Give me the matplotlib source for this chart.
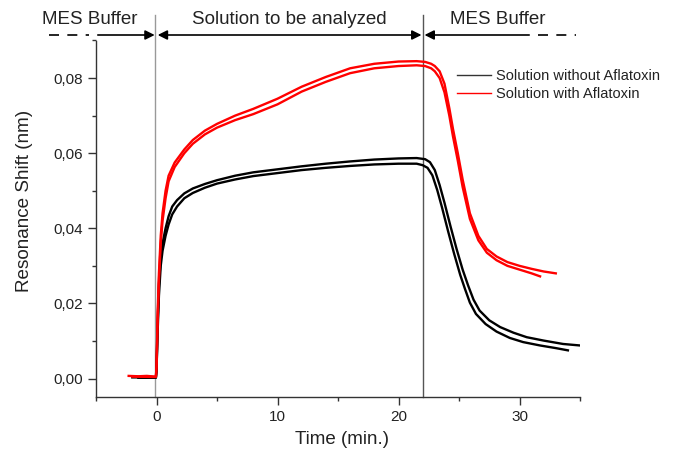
import matplotlib
matplotlib.use("Agg")
import matplotlib.pyplot as plt
from matplotlib.ticker import MultipleLocator, FuncFormatter
from matplotlib.lines import Line2D
import matplotlib.transforms as mtransforms

plt.rcParams['font.family'] = ['Liberation Sans', 'DejaVu Sans']

# ---------------- data ----------------
phase_bounds = [0.0, 22.0]
phase_labels = ["MES Buffer", "Solution to be analyzed", "MES Buffer"]
series_labels = ["Solution without Aflatoxin", "Solution with Aflatoxin"]

# Solution without Aflatoxin, replicate A (upper)
t_black_a = [-2.0, -0.05, 0.0, 0.1, 0.2, 0.35, 0.5, 0.75, 1.0, 1.3, 1.7, 2.3, 3.0, 4.0, 5.0,
             6.5, 8.0, 10.0, 12.0, 14.0, 16.0, 18.0, 20.0, 21.5, 22.2, 22.6, 23.0, 23.4,
             23.8, 24.3, 24.8, 25.3, 25.75, 26.2, 26.7, 27.5, 28.4, 29.5, 30.6, 32.0, 33.6,
             35.0]
v_black_a = [0.0003, 0.0003, 0.002, 0.015, 0.025, 0.032, 0.036, 0.040, 0.0432, 0.0458, 0.0475,
             0.0493, 0.0506, 0.0518, 0.0528, 0.0540, 0.0549, 0.0557, 0.0565, 0.0572, 0.0578,
             0.0583, 0.0586, 0.0587, 0.0584, 0.0576, 0.0555, 0.0515, 0.0468, 0.0405, 0.0345,
             0.0290, 0.0248, 0.0210, 0.0181, 0.0155, 0.0137, 0.0122, 0.0110, 0.0101, 0.0092,
             0.0088]

# Solution without Aflatoxin, replicate B (lower)
t_black_b = [-1.5, -0.05, 0.0, 0.1, 0.2, 0.35, 0.5, 0.75, 1.0, 1.3, 1.7, 2.3, 3.0, 4.0, 5.0,
             6.5, 8.0, 10.0, 12.0, 14.0, 16.0, 18.0, 20.0, 21.5, 22.0, 22.4, 22.8, 23.2,
             23.6, 24.1, 24.6, 25.1, 25.5, 25.9, 26.4, 27.2, 28.1, 29.2, 30.3, 31.7, 33.0,
             34.0]
v_black_b = [0.0002, 0.0002, 0.002, 0.013, 0.022, 0.030, 0.034, 0.038, 0.041, 0.0437, 0.0458,
             0.0480, 0.0494, 0.0508, 0.0519, 0.0530, 0.0539, 0.0547, 0.0555, 0.0561, 0.0566,
             0.0570, 0.0572, 0.0572, 0.0568, 0.0561, 0.0541, 0.0502, 0.0455, 0.0392, 0.0332,
             0.0276, 0.0238, 0.0202, 0.0172, 0.0145, 0.0125, 0.0108, 0.0097, 0.0088, 0.0081,
             0.0075]

# Solution with Aflatoxin, replicate A (upper)
t_red_a = [-2.3, -1.5, -0.8, -0.05, 0.0, 0.1, 0.2, 0.35, 0.5, 0.75, 1.0, 1.5, 2.3, 3.0, 4.0,
           5.0, 6.5, 8.0, 10.0, 12.0, 14.0, 16.0, 18.0, 20.0, 21.5, 22.2, 22.7, 23.0, 23.4,
           23.8, 24.2, 24.5, 24.9, 25.3, 25.9, 26.6, 27.3, 28.1, 29.0, 30.0, 31.0, 32.0, 33.0]
v_red_a = [0.0007, 0.0006, 0.0007, 0.0005, 0.003, 0.018, 0.028, 0.038, 0.044, 0.050, 0.0540,
           0.0575, 0.0610, 0.0635, 0.0660, 0.0678, 0.0700, 0.0718, 0.0745, 0.0777, 0.0803,
           0.0826, 0.0838, 0.0844, 0.0845, 0.0843, 0.0838, 0.0832, 0.0818, 0.0785, 0.0720,
           0.0665, 0.0600, 0.0530, 0.0440, 0.0380, 0.0345, 0.0325, 0.0310, 0.0300, 0.0292,
           0.0285, 0.0280]

# Solution with Aflatoxin, replicate B (lower)
t_red_b = [-2.0, -0.05, 0.0, 0.1, 0.2, 0.35, 0.5, 0.75, 1.0, 1.5, 2.3, 3.0, 4.0, 5.0, 6.5,
           8.0, 10.0, 12.0, 14.0, 16.0, 18.0, 20.0, 21.5, 22.2, 22.7, 23.0, 23.4, 23.8, 24.2,
           24.5, 24.9, 25.3, 25.9, 26.6, 27.3, 28.1, 29.0, 30.0, 31.0, 31.7]
v_red_b = [0.0005, 0.0004, 0.003, 0.016, 0.026, 0.036, 0.042, 0.048, 0.0525, 0.0563, 0.0600,
           0.0625, 0.0650, 0.0668, 0.0688, 0.0704, 0.0730, 0.0764, 0.0790, 0.0813, 0.0826,
           0.0832, 0.0834, 0.0832, 0.0826, 0.0818, 0.0800, 0.0762, 0.0700, 0.0645, 0.0580,
           0.0510, 0.0425, 0.0368, 0.0335, 0.0315, 0.0300, 0.0290, 0.0280, 0.0272]

x_lim = (-5, 35)
y_lim = (-0.005, 0.09)

# ---------------- figure ----------------
W, H = 678, 454
fig = plt.figure(figsize=(W / 100, H / 100), dpi=100)
ax = fig.add_axes([96 / W, 1 - 397.3 / H, 484 / W, 356.8 / H])

black = '#000000'
red = '#ff0000'
lw = 1.7
ax.plot(t_black_a, v_black_a, color=black, lw=lw, zorder=3)
ax.plot(t_black_b, v_black_b, color=black, lw=lw, zorder=3)
ax.plot(t_red_a, v_red_a, color=red, lw=lw, zorder=4)
ax.plot(t_red_b, v_red_b, color=red, lw=lw, zorder=4)

ax.set_xlim(*x_lim)
ax.set_ylim(*y_lim)

for s in ['top', 'right']:
    ax.spines[s].set_visible(False)
for s in ['left', 'bottom']:
    ax.spines[s].set_color('#333333')
    ax.spines[s].set_linewidth(1.0)

ax.xaxis.set_major_locator(MultipleLocator(10))
ax.xaxis.set_minor_locator(MultipleLocator(5))
ax.yaxis.set_major_locator(MultipleLocator(0.02))
ax.yaxis.set_minor_locator(MultipleLocator(0.01))
ax.yaxis.set_major_formatter(FuncFormatter(lambda v, p: f"{v:.2f}".replace('.', ',').replace('-0,00', '0,00')))
ax.xaxis.set_major_formatter(FuncFormatter(lambda v, p: f"{v:.0f}"))
ax.tick_params(which='major', direction='out', length=5.5, width=1.0, color='#333333',
               labelsize=11, labelcolor='#222222', pad=3.5)
ax.tick_params(which='minor', direction='out', length=3, width=1.0, color='#333333')

ax.set_xlabel("Time (min.)", fontsize=13.5, color='#222222')
ax.set_ylabel("Resonance Shift (nm)", fontsize=13.6, color='#222222')
ax.xaxis.label.set_va('center')
ax.yaxis.label.set_va('center')
ax.xaxis.set_label_coords(0.509, (397.3 - 440) / 356.8)
ax.yaxis.set_label_coords((25 - 96) / 484, (397.3 - 201) / 356.8)

# phase boundary lines
top_line = 1 + 25.5 / 356.8
ax.axvline(phase_bounds[0] - 0.1, ymin=0, ymax=top_line, color='#999999', lw=1.0,
           clip_on=False, zorder=2)
ax.axvline(phase_bounds[1], ymin=0, ymax=top_line, color='#555555', lw=1.0,
           clip_on=False, zorder=2)

# header arrows and labels
trans = mtransforms.blended_transform_factory(ax.transData, ax.transAxes)
y_arrow = 1 + 5.5 / 356.8
y_text = 1 + 20.5 / 356.8
akw = dict(color='black', lw=1.2, shrinkA=0, shrinkB=0, mutation_scale=14)

ax.annotate('', xy=(phase_bounds[0] - 0.15, y_arrow), xytext=(-4.85, y_arrow),
            xycoords=trans, textcoords=trans,
            arrowprops=dict(arrowstyle='-|>', **akw), annotation_clip=False)
ax.annotate('', xy=(phase_bounds[1] - 0.1, y_arrow), xytext=(phase_bounds[0] + 0.1, y_arrow),
            xycoords=trans, textcoords=trans,
            arrowprops=dict(arrowstyle='<|-|>', **akw), annotation_clip=False)
ax.annotate('', xy=(phase_bounds[1] + 0.15, y_arrow), xytext=(30.8, y_arrow),
            xycoords=trans, textcoords=trans,
            arrowprops=dict(arrowstyle='-|>', **akw), annotation_clip=False)
ax.plot([-8.9, -5.6], [y_arrow, y_arrow], transform=trans, color='black', lw=1.2,
        dashes=(6, 5), clip_on=False)
ax.plot([31.5, 34.7], [y_arrow, y_arrow], transform=trans, color='black', lw=1.2,
        dashes=(6, 5), clip_on=False)

hfs = 13.5
ax.text(-5.5, y_text, phase_labels[0], transform=trans, ha='center', va='center',
        fontsize=hfs, color='#222222', clip_on=False)
ax.text((phase_bounds[0] + phase_bounds[1]) / 2, y_text, phase_labels[1], transform=trans,
        ha='center', va='center', fontsize=hfs, color='#222222', clip_on=False)
ax.text(28.2, y_text, phase_labels[2], transform=trans, ha='center', va='center',
        fontsize=hfs, color='#222222', clip_on=False)

# legend
handles = [Line2D([], [], color='#333333', lw=1.0), Line2D([], [], color=red, lw=1.0)]
fig.legend(handles, series_labels, loc='upper left', bbox_to_anchor=(457 / W, 1 - 69 / H),
           bbox_transform=fig.transFigure, frameon=False, fontsize=10.5, handlelength=2.3,
           handletextpad=0.35, labelspacing=0.25, borderpad=0, borderaxespad=0,
           labelcolor='#222222')

fig.savefig("out.png", dpi=100)
